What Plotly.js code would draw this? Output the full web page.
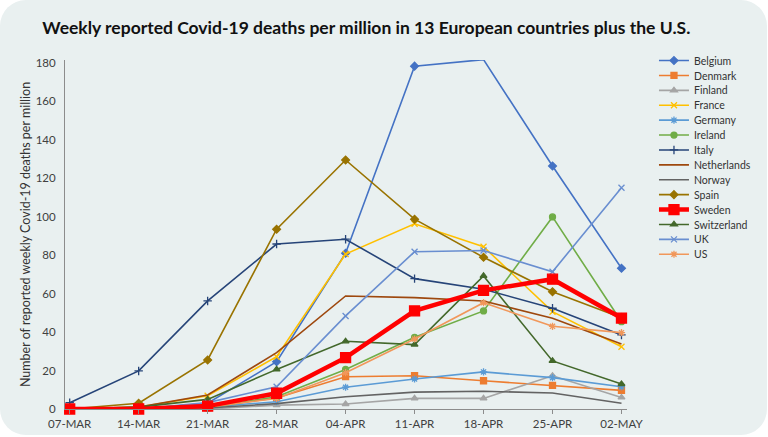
<!DOCTYPE html>
<html><head><meta charset="utf-8">
<script src="https://cdn.plot.ly/plotly-3.0.1.min.js"></script>
<style>
html,body{margin:0;padding:0;background:#ffffff;}
#card{position:absolute;left:0;top:0;width:767px;height:435px;background:#e9f0f0;border-radius:26px;}
#chart{position:absolute;left:0;top:0;width:768px;height:437px;}
</style></head>
<body><div id="card"></div><div id="chart"></div>
<script>
const weeks = ["07-MAR","14-MAR","21-MAR","28-MAR","04-APR","11-APR","18-APR","25-APR","02-MAY"];
const countries = ["Belgium","Denmark","Finland","France","Germany","Ireland","Italy","Netherlands","Norway","Spain","Sweden","Switzerland","UK","US"];
const belgium     = [0, 0, 3, 24.6, 81, 178.3, 181.7, 126.4, 73.2];
const denmark     = [0, 0, 1, 5.7, 16.8, 17.3, 14.7, 12.3, 9.7];
const finland     = [0, 0, 0, 2, 2.6, 5.5, 5.5, 17.3, 6];
const france      = [0, 1, 6.9, 27.2, 80.6, 96.3, 84.4, 50.6, 32.4];
const germany     = [0, 0, 1, 3.8, 11.3, 15.6, 19.3, 16.3, 11.6];
const ireland     = [0, 0, 0.5, 6.4, 20.6, 37.3, 51, 99.9, 45.4];
const italy       = [3.3, 19.8, 56.2, 85.8, 88.3, 67.8, 62.3, 52.4, 38.5];
const netherlands = [0, 1, 7.3, 29.3, 58.8, 57.9, 56.2, 47.2, 33.8];
const norway      = [0, 0, 0.5, 2.8, 6.4, 8.8, 9.2, 8.3, 3];
const spain       = [0, 3, 25.5, 93.5, 129.5, 98.7, 78.9, 61, 47.5];
const sweden      = [0, 0, 1.5, 8.2, 26.7, 51, 61.7, 67.5, 47.3];
const switzerland = [0, 1, 5, 20.6, 35.2, 33.5, 69.2, 25, 13];
const uk          = [0, 0, 3.3, 11.6, 48.4, 81.8, 82.4, 71.4, 115.1];
const us          = [0, 0, 1, 5.5, 18.9, 36.4, 55.3, 43, 39.7];
const seriesValues = [belgium, denmark, finland, france, germany, ireland, italy, netherlands, norway, spain, sweden, switzerland, uk, us];
const yTicks = [0,20,40,60,80,100,120,140,160,180];

const colors = ["#4472C4","#ED7D31","#A5A5A5","#FFC000","#5B9BD5","#70AD47","#264478","#9E480E","#636363","#997300","#FF0000","#43682B","#698ED0","#F1975A"];
const symbols = ["diamond","square","triangle-up","x-thin-open","asterisk-open","circle","cross-thin-open",null,null,"diamond","square","triangle-up","x-thin-open","asterisk-open"];

const xIdx = weeks.map((w,i)=>i);
const traces = countries.map((c,i)=>{
  const isSwe = c === "Sweden";
  const t = {
    type:"scatter", x:xIdx, y:seriesValues[i], name:c,
    mode: symbols[i] ? "lines+markers" : "lines",
    line:{color:colors[i], width: isSwe ? 4.5 : 1.6},
    legendrank: i+1, cliponaxis:false
  };
  if (symbols[i]) t.marker = {symbol:symbols[i], size: isSwe ? 10 : 6, color:colors[i], line:{color:colors[i], width:1.3}};
  return t;
});
const swe = traces.splice(10,1)[0];
traces.push(swe);

const layout = {
  width:768, height:437,
  paper_bgcolor:"rgba(0,0,0,0)", plot_bgcolor:"rgba(0,0,0,0)",
  margin:{l:65, r:102, t:60, b:28},
  font:{family:"Lato, sans-serif", color:"#404040"},
  title:{text:"<b>Weekly reported Covid-19 deaths per million in 13 European countries plus the U.S.</b>",
         font:{family:"Lato, sans-serif", size:17.5, color:"#111111"}, x:0.477, xanchor:"center", y:0.937, yanchor:"middle"},
  xaxis:{range:[-0.068, 8.08], tickmode:"array", tickvals:xIdx, ticktext:weeks,
         showline:true, linecolor:"#8c8c8c", linewidth:1, showgrid:false, zeroline:false,
         ticks:"outside", ticklen:4, tickcolor:"#8c8c8c",
         tickfont:{family:"Lato, sans-serif", size:11.5, color:"#404040"}},
  yaxis:{range:[0,181.5], tickmode:"array", tickvals:yTicks,
         showline:true, linecolor:"#8c8c8c", linewidth:1, showgrid:false, zeroline:false,
         ticks:"", ticklabelstandoff:6,
         tickfont:{family:"Lato, sans-serif", size:11.5, color:"#404040"},
         title:{text:"Number of reported weekly Covid-19 deaths per million",
                font:{family:"Lato, sans-serif", size:12.5, color:"#333333"}}},
  legend:{x:1.048, xanchor:"left", y:1.04, yanchor:"top", font:{family:"Lato, sans-serif", size:10.5, color:"#333333"},
          bgcolor:"rgba(0,0,0,0)", itemwidth:30, tracegroupgap:0},
  showlegend:true
};
Plotly.newPlot("chart", traces, layout, {displayModeBar:false, staticPlot:true}).then(gd=>{
  const items = gd.querySelectorAll(".legend .traces");
  if (!items.length) return;
  const m0 = /translate\(\s*([-\d.]+)[ ,]+([-\d.]+)\s*\)/.exec(items[0].getAttribute("transform") || "");
  const x0 = m0 ? parseFloat(m0[1]) : 0;
  const y0 = m0 ? parseFloat(m0[2]) : 0;
  items.forEach((el,i)=>{ el.setAttribute("transform", `translate(${x0},${y0 + i*14.9})`); });
});
</script></body></html>
